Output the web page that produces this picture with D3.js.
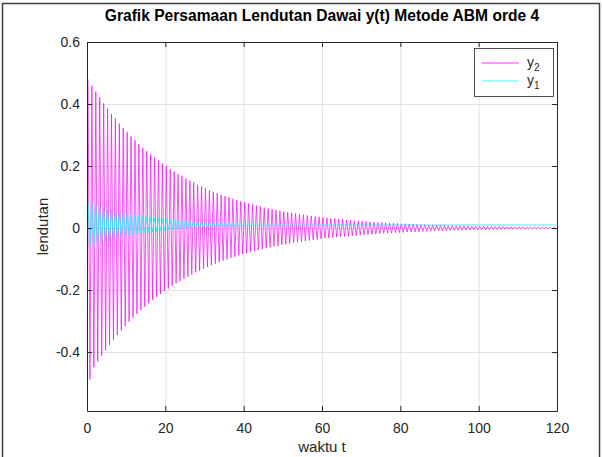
<!DOCTYPE html>
<html>
<head>
<meta charset="utf-8">
<script src="https://cdn.jsdelivr.net/npm/d3@7"></script>
<style>
  body { margin: 0; background: #fff; }
  svg { display: block; font-family: "Liberation Sans", Arial, Helvetica, sans-serif; }
</style>
</head>
<body>
<svg id="chart" width="602" height="457"></svg>
<script>
// extrema of each half swing (dt = 0.5 between them)
const dt = 0.5
const y2 = [
  0.480, -0.488, 0.459, -0.449, 0.440, -0.430, 0.421, -0.411, 0.402, -0.394,
  0.385, -0.377, 0.368, -0.360, 0.353, -0.345, 0.337, -0.330, 0.323, -0.316,
  0.309, -0.302, 0.296, -0.289, 0.283, -0.277, 0.271, -0.265, 0.259, -0.253,
  0.248, -0.243, 0.237, -0.232, 0.227, -0.222, 0.217, -0.213, 0.208, -0.203,
  0.199, -0.195, 0.190, -0.186, 0.182, -0.178, 0.174, -0.171, 0.167, -0.163,
  0.160, -0.157, 0.153, -0.150, 0.147, -0.143, 0.140, -0.137, 0.134, -0.131,
  0.128, -0.125, 0.122, -0.120, 0.117, -0.115, 0.112, -0.110, 0.107, -0.105,
  0.103, -0.101, 0.099, -0.096, 0.094, -0.092, 0.090, -0.088, 0.086, -0.084,
  0.083, -0.081, 0.079, -0.077, 0.076, -0.074, 0.072, -0.071, 0.069, -0.068,
  0.066, -0.065, 0.063, -0.062, 0.061, -0.059, 0.058, -0.057, 0.056, -0.054,
  0.053, -0.052, 0.051, -0.050, 0.049, -0.048, 0.047, -0.046, 0.045, -0.044,
  0.043, -0.042, 0.041, -0.040, 0.039, -0.038, 0.037, -0.037, 0.036, -0.035,
  0.034, -0.033, 0.033, -0.032, 0.031, -0.031, 0.030, -0.029, 0.029, -0.028,
  0.028, -0.027, 0.026, -0.026, 0.025, -0.025, 0.024, -0.024, 0.023, -0.023,
  0.022, -0.022, 0.021, -0.021, 0.020, -0.020, 0.019, -0.019, 0.018, -0.018,
  0.018, -0.017, 0.017, -0.017, 0.016, -0.016, 0.016, -0.015, 0.015, -0.015,
  0.014, -0.014, 0.014, -0.013, 0.013, -0.013, 0.012, -0.012, 0.012, -0.012,
  0.011, -0.011, 0.011, -0.011, 0.010, -0.010, 0.010, -0.010, 0.010, -0.009,
  0.009, -0.009, 0.009, -0.009, 0.008, -0.008, 0.008, -0.008, 0.008, -0.007,
  0.007, -0.007, 0.007, -0.007, 0.007, -0.007, 0.006, -0.006, 0.006, -0.006,
  0.006, -0.006, 0.006, -0.006, 0.005, -0.005, 0.005, -0.005, 0.005, -0.005,
  0.005, -0.005, 0.005, -0.004, 0.004, -0.004, 0.004, -0.004, 0.004, -0.004,
  0.004, -0.004, 0.004, -0.004, 0.003, -0.003, 0.003, -0.003, 0.003, -0.003,
  0.003, -0.003, 0.003, -0.003, 0.003, -0.003, 0.003, -0.003, 0.002, -0.002
]
const y1 = [
  0.083, -0.061, 0.078, -0.056, 0.074, -0.051, 0.069, -0.047, 0.065, -0.043,
  0.061, -0.040, 0.058, -0.036, 0.055, -0.033, 0.052, -0.030, 0.049, -0.028,
  0.046, -0.025, 0.044, -0.023, 0.042, -0.020, 0.039, -0.018, 0.037, -0.016,
  0.036, -0.015, 0.034, -0.013, 0.032, -0.011, 0.031, -0.010, 0.029, -0.009,
  0.028, -0.007, 0.027, -0.006, 0.026, -0.005, 0.025, -0.004, 0.024, -0.003,
  0.023, -0.002, 0.022, -0.001, 0.021, -0.001, 0.020, 0.000, 0.020, 0.001,
  0.019, 0.001, 0.018, 0.002, 0.018, 0.003, 0.017, 0.003, 0.017, 0.004,
  0.016, 0.004, 0.016, 0.004, 0.016, 0.005, 0.015, 0.005, 0.015, 0.005,
  0.014, 0.006, 0.014, 0.006, 0.014, 0.006, 0.014, 0.007, 0.013, 0.007,
  0.013, 0.007, 0.013, 0.007, 0.013, 0.007, 0.012, 0.008, 0.012, 0.008,
  0.012, 0.008, 0.012, 0.008, 0.012, 0.008, 0.012, 0.008, 0.012, 0.008,
  0.012, 0.009, 0.011, 0.009, 0.011, 0.009, 0.011, 0.009, 0.011, 0.009,
  0.011, 0.009, 0.011, 0.009, 0.011, 0.009, 0.011, 0.009, 0.011, 0.009,
  0.011, 0.010, 0.011, 0.010, 0.011, 0.010, 0.011, 0.010, 0.011, 0.010,
  0.010, 0.010, 0.010, 0.010, 0.010, 0.010, 0.010, 0.010, 0.010, 0.010,
  0.010, 0.010, 0.010, 0.010, 0.010, 0.010, 0.010, 0.010, 0.010, 0.010,
  0.010, 0.010, 0.010, 0.010, 0.010, 0.010, 0.010, 0.010, 0.010, 0.010,
  0.010, 0.010, 0.010, 0.010, 0.010, 0.010, 0.010, 0.010, 0.010, 0.010,
  0.010, 0.010, 0.010, 0.010, 0.010, 0.010, 0.010, 0.010, 0.010, 0.010,
  0.010, 0.010, 0.010, 0.010, 0.010, 0.010, 0.010, 0.010, 0.010, 0.010,
  0.010, 0.010, 0.010, 0.010, 0.010, 0.010, 0.010, 0.010, 0.010, 0.010,
  0.010, 0.010, 0.010, 0.010, 0.010, 0.010, 0.010, 0.010, 0.010, 0.010,
  0.010, 0.010, 0.010, 0.010, 0.010, 0.010, 0.010, 0.010, 0.010, 0.010,
  0.010, 0.010, 0.010, 0.010, 0.010, 0.010, 0.010, 0.010, 0.010, 0.010
]
const xTicks = [0, 20, 40, 60, 80, 100, 120]
const yTicks = [-0.4, -0.2, 0, 0.2, 0.4, 0.6]
const yTickLabels = ["-0.4", "-0.2", "0", "0.2", "0.4", "0.6"]
const seriesNames = ["y2", "y1"]
const seriesColors = ["#ff00ff", "#00ffff"]

const svg = d3.select("#chart")
const pLeft = 87, pRight = 557, pTop = 42, pBottom = 411
const axisColor = "#262626"

const x = d3.scaleLinear().domain([0, 120]).range([pLeft, pRight])
const y = d3.scaleLinear().domain([-0.59, 0.6]).range([pBottom, pTop])

// figure frame
svg.append("rect")
    .attr("x", 2.5).attr("y", 3.5)
    .attr("width", 597).attr("height", 470)
    .attr("fill", "none")
    .attr("stroke", "#404040")
    .attr("stroke-width", 1.5)

// grid
const grid = svg.append("g")
grid.selectAll("line.gx")
    .data(xTicks.slice(1, -1))
    .enter().append("line")
    .attr("x1", d => x(d) + 0.5).attr("x2", d => x(d) + 0.5)
    .attr("y1", pTop).attr("y2", pBottom)
    .attr("stroke", "#e3e3e3")
grid.selectAll("line.gy")
    .data(yTicks.slice(0, -1))
    .enter().append("line")
    .attr("y1", d => Math.round(y(d)) + 0.5).attr("y2", d => Math.round(y(d)) + 0.5)
    .attr("x1", pLeft).attr("x2", pRight)
    .attr("stroke", "#e3e3e3")

// lines
svg.append("clipPath").attr("id", "clip")
    .append("rect")
    .attr("x", pLeft).attr("y", pTop)
    .attr("width", pRight - pLeft).attr("height", pBottom - pTop)

const line = d3.line()
    .x((d, i) => x(dt / 2 + i * dt))
    .y(d => y(d))

const plot = svg.append("g").attr("clip-path", "url(#clip)")
plot.append("path")
    .datum(y2)
    .attr("d", line)
    .attr("fill", "none")
    .attr("stroke", seriesColors[0])
    .attr("stroke-width", 0.7)
plot.append("path")
    .datum(y1)
    .attr("d", line)
    .attr("fill", "none")
    .attr("stroke", seriesColors[1])
    .attr("stroke-width", 0.8)

// axes (box with ticks inside on all sides)
const xAxis = d3.axisBottom(x).tickValues(xTicks).tickSizeInner(-5).tickSizeOuter(0).tickPadding(12)
const yAxis = d3.axisLeft(y).tickValues(yTicks).tickSizeInner(-5).tickSizeOuter(0).tickPadding(7)
    .tickFormat((d, i) => yTickLabels[i])

const gx = svg.append("g").attr("transform", `translate(0,${pBottom})`).call(xAxis)
const gy = svg.append("g").attr("transform", `translate(${pLeft},0)`).call(yAxis)
const gxTop = svg.append("g").attr("transform", `translate(0,${pTop})`)
    .call(d3.axisTop(x).tickValues(xTicks).tickSizeInner(-5).tickSizeOuter(0).tickFormat(""))
const gyRight = svg.append("g").attr("transform", `translate(${pRight},0)`)
    .call(d3.axisRight(y).tickValues(yTicks).tickSizeInner(-5).tickSizeOuter(0).tickFormat(""))

;[gx, gy, gxTop, gyRight].forEach(g => {
    g.select(".domain").attr("stroke", axisColor)
    g.selectAll(".tick line").attr("stroke", axisColor)
    g.selectAll(".tick text")
        .attr("fill", axisColor)
        .style("font-size", "14px")
        .style("font-family", '"Liberation Sans", Arial, sans-serif')
})

// title and labels
svg.append("text")
    .attr("x", (pLeft + pRight) / 2).attr("y", 21)
    .attr("text-anchor", "middle")
    .style("font-size", "15.6px").style("font-weight", "bold")
    .attr("fill", "#000")
    .text("Grafik Persamaan Lendutan Dawai y(t) Metode ABM orde 4")

svg.append("text")
    .attr("x", (pLeft + pRight) / 2).attr("y", 452)
    .attr("text-anchor", "middle")
    .style("font-size", "15px")
    .attr("fill", axisColor)
    .text("waktu t")

svg.append("text")
    .attr("transform", `translate(48,${(pTop + pBottom) / 2}) rotate(-90)`)
    .attr("text-anchor", "middle")
    .style("font-size", "15px")
    .attr("fill", axisColor)
    .text("lendutan")

// legend
const legend = svg.append("g").attr("transform", "translate(474,48)")
legend.append("rect")
    .attr("x", 0.5).attr("y", 0.5)
    .attr("width", 79).attr("height", 48)
    .attr("fill", "#fff")
    .attr("stroke", axisColor)
    .attr("stroke-width", 0.8)

const entries = legend.selectAll("g.entry")
    .data(seriesNames)
    .enter().append("g")
    .attr("transform", (d, i) => `translate(0,${15 + i * 18})`)
entries.append("line")
    .attr("x1", 8).attr("x2", 45)
    .attr("stroke", (d, i) => seriesColors[i])
    .attr("stroke-width", 0.8)
const labels = entries.append("text")
    .attr("x", 53).attr("y", 4)
    .style("font-size", "14px")
    .attr("fill", axisColor)
labels.append("tspan").text(d => d[0])
labels.append("tspan")
    .attr("dy", 4)
    .style("font-size", "10px")
    .text(d => d.slice(1))
</script>
</body>
</html>
